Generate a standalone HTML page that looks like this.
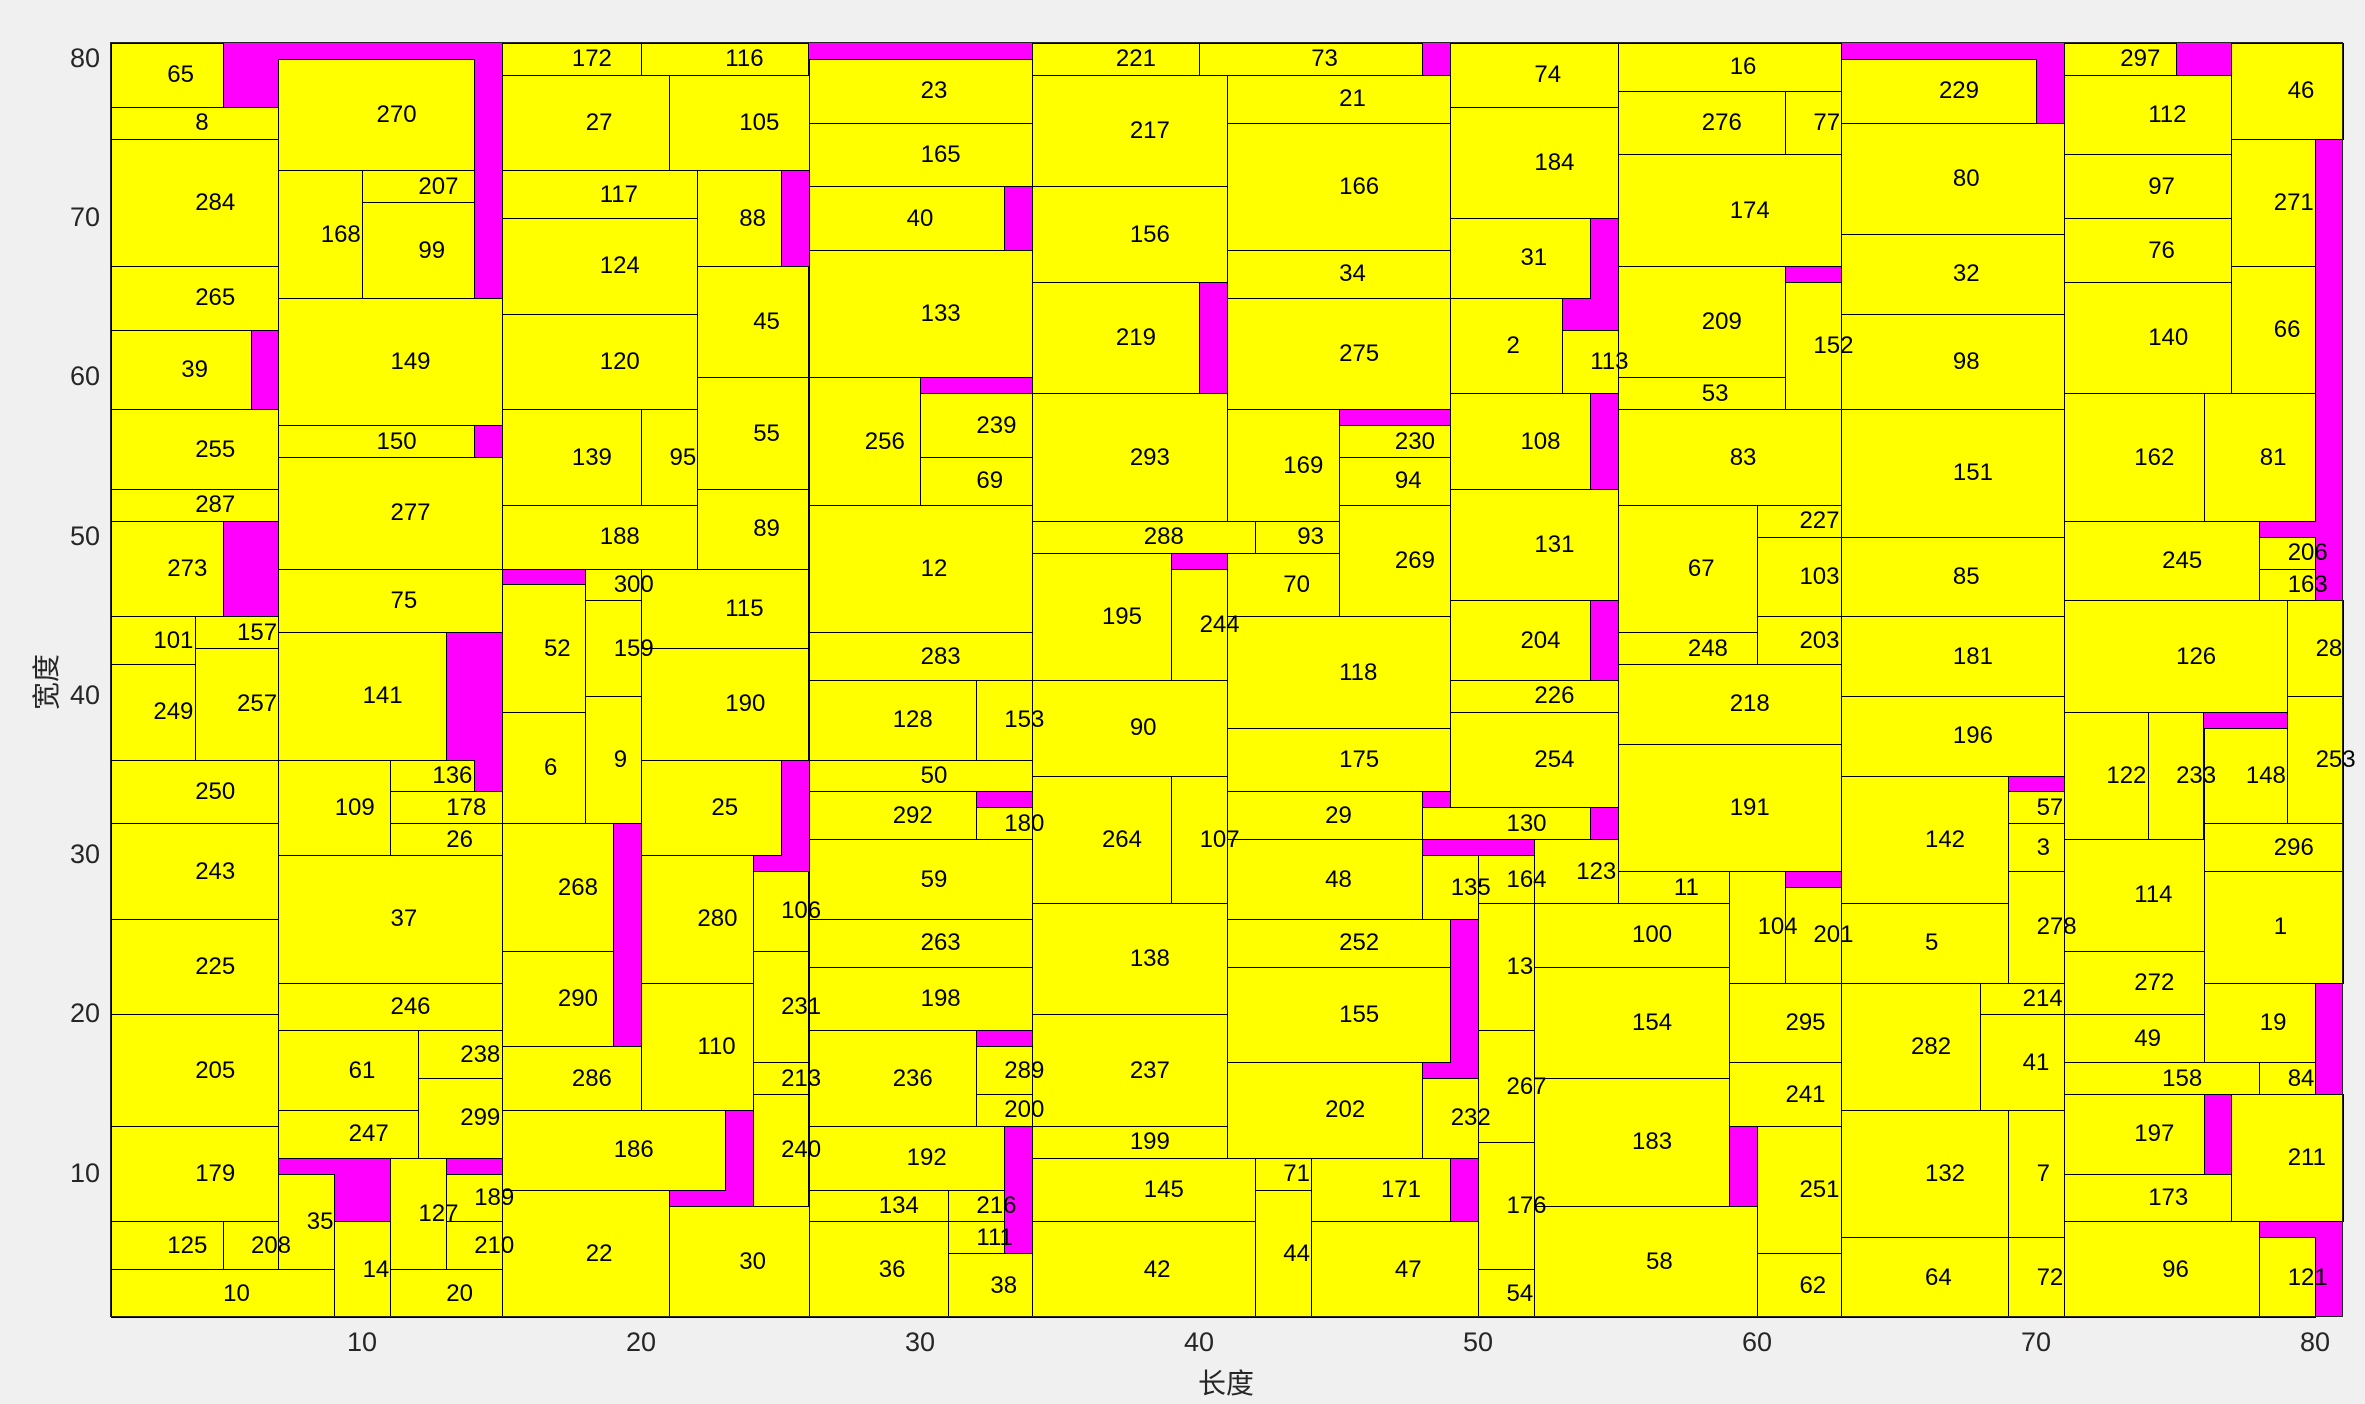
<!DOCTYPE html>
<html><head><meta charset="utf-8"><style>
html,body{margin:0;padding:0}
body{width:2365px;height:1404px;background:#f0f0f0;position:relative;overflow:hidden;font-family:"Liberation Sans","Noto Sans CJK SC",sans-serif}
#p{position:absolute;left:111px;top:43px;width:2232px;height:1274px;background:#f0f}
.r{position:absolute;box-sizing:border-box;border:1px solid #000;background:#ff0;
left:calc(111px + (var(--a) - 1)*27.9px);top:calc(1317px - (var(--d) - 1)*15.925px);
width:calc((var(--c) - var(--a))*27.9px + 1px);height:calc((var(--d) - var(--b))*15.925px + 1px)}
.r span{position:absolute;z-index:5;left:50%;top:50%;transform:translateY(-50%);font-size:24px;line-height:1;white-space:nowrap;color:#000}
#f{position:absolute;left:110px;top:42px;width:2233px;height:1275px;border:1px solid #262626;box-sizing:border-box;pointer-events:none;z-index:6}
.xt{position:absolute;top:1327px;width:80px;margin-left:-40px;text-align:center;font-size:27px;color:#262626}
.yt{position:absolute;left:40px;width:60px;text-align:right;font-size:27px;color:#262626;margin-top:-16px}
</style></head><body>
<div id="p"></div>
<div class="r" style="--a:1;--b:77;--c:5;--d:81"><span>65</span></div>
<div class="r" style="--a:1;--b:75;--c:7;--d:77"><span>8</span></div>
<div class="r" style="--a:1;--b:67;--c:7;--d:75"><span>284</span></div>
<div class="r" style="--a:1;--b:63;--c:7;--d:67"><span>265</span></div>
<div class="r" style="--a:1;--b:58;--c:6;--d:63"><span>39</span></div>
<div class="r" style="--a:1;--b:53;--c:7;--d:58"><span>255</span></div>
<div class="r" style="--a:1;--b:51;--c:7;--d:53"><span>287</span></div>
<div class="r" style="--a:1;--b:45;--c:5;--d:51"><span>273</span></div>
<div class="r" style="--a:1;--b:42;--c:4;--d:45"><span>101</span></div>
<div class="r" style="--a:4;--b:43;--c:7;--d:45"><span>157</span></div>
<div class="r" style="--a:1;--b:36;--c:4;--d:42"><span>249</span></div>
<div class="r" style="--a:4;--b:36;--c:7;--d:43"><span>257</span></div>
<div class="r" style="--a:1;--b:32;--c:7;--d:36"><span>250</span></div>
<div class="r" style="--a:1;--b:26;--c:7;--d:32"><span>243</span></div>
<div class="r" style="--a:1;--b:20;--c:7;--d:26"><span>225</span></div>
<div class="r" style="--a:1;--b:13;--c:7;--d:20"><span>205</span></div>
<div class="r" style="--a:1;--b:7;--c:7;--d:13"><span>179</span></div>
<div class="r" style="--a:1;--b:4;--c:5;--d:7"><span>125</span></div>
<div class="r" style="--a:5;--b:4;--c:7;--d:7"><span>208</span></div>
<div class="r" style="--a:1;--b:1;--c:9;--d:4"><span>10</span></div>
<div class="r" style="--a:7;--b:73;--c:14;--d:80"><span>270</span></div>
<div class="r" style="--a:7;--b:65;--c:10;--d:73"><span>168</span></div>
<div class="r" style="--a:10;--b:71;--c:14;--d:73"><span>207</span></div>
<div class="r" style="--a:10;--b:65;--c:14;--d:71"><span>99</span></div>
<div class="r" style="--a:7;--b:57;--c:15;--d:65"><span>149</span></div>
<div class="r" style="--a:7;--b:55;--c:14;--d:57"><span>150</span></div>
<div class="r" style="--a:7;--b:48;--c:15;--d:55"><span>277</span></div>
<div class="r" style="--a:7;--b:44;--c:15;--d:48"><span>75</span></div>
<div class="r" style="--a:7;--b:36;--c:13;--d:44"><span>141</span></div>
<div class="r" style="--a:7;--b:30;--c:11;--d:36"><span>109</span></div>
<div class="r" style="--a:11;--b:34;--c:14;--d:36"><span>136</span></div>
<div class="r" style="--a:11;--b:32;--c:15;--d:34"><span>178</span></div>
<div class="r" style="--a:11;--b:30;--c:15;--d:32"><span>26</span></div>
<div class="r" style="--a:7;--b:22;--c:15;--d:30"><span>37</span></div>
<div class="r" style="--a:7;--b:19;--c:15;--d:22"><span>246</span></div>
<div class="r" style="--a:7;--b:14;--c:12;--d:19"><span>61</span></div>
<div class="r" style="--a:12;--b:16;--c:15;--d:19"><span>238</span></div>
<div class="r" style="--a:12;--b:11;--c:15;--d:16"><span>299</span></div>
<div class="r" style="--a:7;--b:11;--c:12;--d:14"><span>247</span></div>
<div class="r" style="--a:7;--b:4;--c:9;--d:10"><span>35</span></div>
<div class="r" style="--a:9;--b:1;--c:11;--d:7"><span>14</span></div>
<div class="r" style="--a:11;--b:4;--c:13;--d:11"><span>127</span></div>
<div class="r" style="--a:13;--b:7;--c:15;--d:10"><span>189</span></div>
<div class="r" style="--a:13;--b:4;--c:15;--d:7"><span>210</span></div>
<div class="r" style="--a:11;--b:1;--c:15;--d:4"><span>20</span></div>
<div class="r" style="--a:15;--b:79;--c:20;--d:81"><span>172</span></div>
<div class="r" style="--a:20;--b:79;--c:26;--d:81"><span>116</span></div>
<div class="r" style="--a:15;--b:73;--c:21;--d:79"><span>27</span></div>
<div class="r" style="--a:21;--b:73;--c:26;--d:79"><span>105</span></div>
<div class="r" style="--a:15;--b:70;--c:22;--d:73"><span>117</span></div>
<div class="r" style="--a:22;--b:67;--c:25;--d:73"><span>88</span></div>
<div class="r" style="--a:15;--b:64;--c:22;--d:70"><span>124</span></div>
<div class="r" style="--a:22;--b:60;--c:26;--d:67"><span>45</span></div>
<div class="r" style="--a:15;--b:58;--c:22;--d:64"><span>120</span></div>
<div class="r" style="--a:22;--b:53;--c:26;--d:60"><span>55</span></div>
<div class="r" style="--a:15;--b:52;--c:20;--d:58"><span>139</span></div>
<div class="r" style="--a:20;--b:52;--c:22;--d:58"><span>95</span></div>
<div class="r" style="--a:22;--b:48;--c:26;--d:53"><span>89</span></div>
<div class="r" style="--a:15;--b:48;--c:22;--d:52"><span>188</span></div>
<div class="r" style="--a:18;--b:46;--c:20;--d:48"><span>300</span></div>
<div class="r" style="--a:15;--b:39;--c:18;--d:47"><span>52</span></div>
<div class="r" style="--a:18;--b:40;--c:20;--d:46"><span>159</span></div>
<div class="r" style="--a:20;--b:43;--c:26;--d:48"><span>115</span></div>
<div class="r" style="--a:20;--b:36;--c:26;--d:43"><span>190</span></div>
<div class="r" style="--a:15;--b:32;--c:18;--d:39"><span>6</span></div>
<div class="r" style="--a:18;--b:32;--c:20;--d:40"><span>9</span></div>
<div class="r" style="--a:20;--b:30;--c:25;--d:36"><span>25</span></div>
<div class="r" style="--a:15;--b:24;--c:19;--d:32"><span>268</span></div>
<div class="r" style="--a:20;--b:22;--c:24;--d:30"><span>280</span></div>
<div class="r" style="--a:24;--b:24;--c:26;--d:29"><span>106</span></div>
<div class="r" style="--a:15;--b:18;--c:19;--d:24"><span>290</span></div>
<div class="r" style="--a:24;--b:17;--c:26;--d:24"><span>231</span></div>
<div class="r" style="--a:20;--b:14;--c:24;--d:22"><span>110</span></div>
<div class="r" style="--a:24;--b:15;--c:26;--d:17"><span>213</span></div>
<div class="r" style="--a:15;--b:14;--c:20;--d:18"><span>286</span></div>
<div class="r" style="--a:24;--b:8;--c:26;--d:15"><span>240</span></div>
<div class="r" style="--a:15;--b:9;--c:23;--d:14"><span>186</span></div>
<div class="r" style="--a:15;--b:1;--c:21;--d:9"><span>22</span></div>
<div class="r" style="--a:21;--b:1;--c:26;--d:8"><span>30</span></div>
<div class="r" style="--a:26;--b:76;--c:34;--d:80"><span>23</span></div>
<div class="r" style="--a:26;--b:72;--c:34;--d:76"><span>165</span></div>
<div class="r" style="--a:26;--b:68;--c:33;--d:72"><span>40</span></div>
<div class="r" style="--a:26;--b:60;--c:34;--d:68"><span>133</span></div>
<div class="r" style="--a:26;--b:52;--c:30;--d:60"><span>256</span></div>
<div class="r" style="--a:30;--b:55;--c:34;--d:59"><span>239</span></div>
<div class="r" style="--a:30;--b:52;--c:34;--d:55"><span>69</span></div>
<div class="r" style="--a:26;--b:44;--c:34;--d:52"><span>12</span></div>
<div class="r" style="--a:26;--b:41;--c:34;--d:44"><span>283</span></div>
<div class="r" style="--a:26;--b:36;--c:32;--d:41"><span>128</span></div>
<div class="r" style="--a:32;--b:36;--c:34;--d:41"><span>153</span></div>
<div class="r" style="--a:26;--b:34;--c:34;--d:36"><span>50</span></div>
<div class="r" style="--a:26;--b:31;--c:32;--d:34"><span>292</span></div>
<div class="r" style="--a:32;--b:31;--c:34;--d:33"><span>180</span></div>
<div class="r" style="--a:26;--b:26;--c:34;--d:31"><span>59</span></div>
<div class="r" style="--a:26;--b:23;--c:34;--d:26"><span>263</span></div>
<div class="r" style="--a:26;--b:19;--c:34;--d:23"><span>198</span></div>
<div class="r" style="--a:26;--b:13;--c:32;--d:19"><span>236</span></div>
<div class="r" style="--a:32;--b:15;--c:34;--d:18"><span>289</span></div>
<div class="r" style="--a:32;--b:13;--c:34;--d:15"><span>200</span></div>
<div class="r" style="--a:26;--b:9;--c:33;--d:13"><span>192</span></div>
<div class="r" style="--a:26;--b:7;--c:31;--d:9"><span>134</span></div>
<div class="r" style="--a:31;--b:7;--c:33;--d:9"><span>216</span></div>
<div class="r" style="--a:31;--b:5;--c:33;--d:7"><span>111</span></div>
<div class="r" style="--a:26;--b:1;--c:31;--d:7"><span>36</span></div>
<div class="r" style="--a:31;--b:1;--c:34;--d:5"><span>38</span></div>
<div class="r" style="--a:34;--b:79;--c:40;--d:81"><span>221</span></div>
<div class="r" style="--a:40;--b:79;--c:48;--d:81"><span>73</span></div>
<div class="r" style="--a:34;--b:72;--c:41;--d:79"><span>217</span></div>
<div class="r" style="--a:41;--b:76;--c:49;--d:79"><span>21</span></div>
<div class="r" style="--a:34;--b:66;--c:41;--d:72"><span>156</span></div>
<div class="r" style="--a:41;--b:68;--c:49;--d:76"><span>166</span></div>
<div class="r" style="--a:34;--b:59;--c:40;--d:66"><span>219</span></div>
<div class="r" style="--a:41;--b:65;--c:49;--d:68"><span>34</span></div>
<div class="r" style="--a:41;--b:58;--c:49;--d:65"><span>275</span></div>
<div class="r" style="--a:34;--b:51;--c:41;--d:59"><span>293</span></div>
<div class="r" style="--a:41;--b:51;--c:45;--d:58"><span>169</span></div>
<div class="r" style="--a:45;--b:55;--c:49;--d:57"><span>230</span></div>
<div class="r" style="--a:45;--b:52;--c:49;--d:55"><span>94</span></div>
<div class="r" style="--a:34;--b:49;--c:42;--d:51"><span>288</span></div>
<div class="r" style="--a:42;--b:49;--c:45;--d:51"><span>93</span></div>
<div class="r" style="--a:45;--b:45;--c:49;--d:52"><span>269</span></div>
<div class="r" style="--a:34;--b:41;--c:39;--d:49"><span>195</span></div>
<div class="r" style="--a:39;--b:41;--c:41;--d:48"><span>244</span></div>
<div class="r" style="--a:41;--b:45;--c:45;--d:49"><span>70</span></div>
<div class="r" style="--a:41;--b:38;--c:49;--d:45"><span>118</span></div>
<div class="r" style="--a:34;--b:35;--c:41;--d:41"><span>90</span></div>
<div class="r" style="--a:41;--b:34;--c:49;--d:38"><span>175</span></div>
<div class="r" style="--a:34;--b:27;--c:39;--d:35"><span>264</span></div>
<div class="r" style="--a:39;--b:27;--c:41;--d:35"><span>107</span></div>
<div class="r" style="--a:41;--b:31;--c:48;--d:34"><span>29</span></div>
<div class="r" style="--a:48;--b:31;--c:54;--d:33"><span>130</span></div>
<div class="r" style="--a:41;--b:26;--c:48;--d:31"><span>48</span></div>
<div class="r" style="--a:48;--b:26;--c:50;--d:30"><span>135</span></div>
<div class="r" style="--a:50;--b:27;--c:52;--d:30"><span>164</span></div>
<div class="r" style="--a:52;--b:27;--c:55;--d:31"><span>123</span></div>
<div class="r" style="--a:34;--b:20;--c:41;--d:27"><span>138</span></div>
<div class="r" style="--a:41;--b:23;--c:49;--d:26"><span>252</span></div>
<div class="r" style="--a:41;--b:17;--c:49;--d:23"><span>155</span></div>
<div class="r" style="--a:34;--b:13;--c:41;--d:20"><span>237</span></div>
<div class="r" style="--a:41;--b:11;--c:48;--d:17"><span>202</span></div>
<div class="r" style="--a:48;--b:11;--c:50;--d:16"><span>232</span></div>
<div class="r" style="--a:34;--b:11;--c:41;--d:13"><span>199</span></div>
<div class="r" style="--a:34;--b:7;--c:42;--d:11"><span>145</span></div>
<div class="r" style="--a:42;--b:9;--c:44;--d:11"><span>71</span></div>
<div class="r" style="--a:44;--b:7;--c:49;--d:11"><span>171</span></div>
<div class="r" style="--a:34;--b:1;--c:42;--d:7"><span>42</span></div>
<div class="r" style="--a:42;--b:1;--c:44;--d:9"><span>44</span></div>
<div class="r" style="--a:44;--b:1;--c:50;--d:7"><span>47</span></div>
<div class="r" style="--a:49;--b:77;--c:55;--d:81"><span>74</span></div>
<div class="r" style="--a:49;--b:70;--c:55;--d:77"><span>184</span></div>
<div class="r" style="--a:49;--b:65;--c:54;--d:70"><span>31</span></div>
<div class="r" style="--a:49;--b:59;--c:53;--d:65"><span>2</span></div>
<div class="r" style="--a:53;--b:59;--c:55;--d:63"><span>113</span></div>
<div class="r" style="--a:49;--b:53;--c:54;--d:59"><span>108</span></div>
<div class="r" style="--a:49;--b:46;--c:55;--d:53"><span>131</span></div>
<div class="r" style="--a:49;--b:41;--c:54;--d:46"><span>204</span></div>
<div class="r" style="--a:49;--b:39;--c:55;--d:41"><span>226</span></div>
<div class="r" style="--a:49;--b:33;--c:55;--d:39"><span>254</span></div>
<div class="r" style="--a:50;--b:19;--c:52;--d:27"><span>13</span></div>
<div class="r" style="--a:50;--b:12;--c:52;--d:19"><span>267</span></div>
<div class="r" style="--a:50;--b:4;--c:52;--d:12"><span>176</span></div>
<div class="r" style="--a:50;--b:1;--c:52;--d:4"><span>54</span></div>
<div class="r" style="--a:55;--b:78;--c:63;--d:81"><span>16</span></div>
<div class="r" style="--a:55;--b:74;--c:61;--d:78"><span>276</span></div>
<div class="r" style="--a:61;--b:74;--c:63;--d:78"><span>77</span></div>
<div class="r" style="--a:55;--b:67;--c:63;--d:74"><span>174</span></div>
<div class="r" style="--a:55;--b:60;--c:61;--d:67"><span>209</span></div>
<div class="r" style="--a:61;--b:58;--c:63;--d:66"><span>152</span></div>
<div class="r" style="--a:55;--b:58;--c:61;--d:60"><span>53</span></div>
<div class="r" style="--a:55;--b:52;--c:63;--d:58"><span>83</span></div>
<div class="r" style="--a:55;--b:44;--c:60;--d:52"><span>67</span></div>
<div class="r" style="--a:60;--b:50;--c:63;--d:52"><span>227</span></div>
<div class="r" style="--a:60;--b:45;--c:63;--d:50"><span>103</span></div>
<div class="r" style="--a:55;--b:42;--c:60;--d:44"><span>248</span></div>
<div class="r" style="--a:60;--b:42;--c:63;--d:45"><span>203</span></div>
<div class="r" style="--a:55;--b:37;--c:63;--d:42"><span>218</span></div>
<div class="r" style="--a:55;--b:29;--c:63;--d:37"><span>191</span></div>
<div class="r" style="--a:55;--b:27;--c:59;--d:29"><span>11</span></div>
<div class="r" style="--a:59;--b:22;--c:61;--d:29"><span>104</span></div>
<div class="r" style="--a:61;--b:22;--c:63;--d:28"><span>201</span></div>
<div class="r" style="--a:52;--b:23;--c:59;--d:27"><span>100</span></div>
<div class="r" style="--a:52;--b:16;--c:59;--d:23"><span>154</span></div>
<div class="r" style="--a:59;--b:17;--c:63;--d:22"><span>295</span></div>
<div class="r" style="--a:59;--b:13;--c:63;--d:17"><span>241</span></div>
<div class="r" style="--a:52;--b:8;--c:59;--d:16"><span>183</span></div>
<div class="r" style="--a:60;--b:5;--c:63;--d:13"><span>251</span></div>
<div class="r" style="--a:52;--b:1;--c:60;--d:8"><span>58</span></div>
<div class="r" style="--a:60;--b:1;--c:63;--d:5"><span>62</span></div>
<div class="r" style="--a:63;--b:76;--c:70;--d:80"><span>229</span></div>
<div class="r" style="--a:63;--b:69;--c:71;--d:76"><span>80</span></div>
<div class="r" style="--a:63;--b:64;--c:71;--d:69"><span>32</span></div>
<div class="r" style="--a:63;--b:58;--c:71;--d:64"><span>98</span></div>
<div class="r" style="--a:63;--b:50;--c:71;--d:58"><span>151</span></div>
<div class="r" style="--a:63;--b:45;--c:71;--d:50"><span>85</span></div>
<div class="r" style="--a:63;--b:40;--c:71;--d:45"><span>181</span></div>
<div class="r" style="--a:63;--b:35;--c:71;--d:40"><span>196</span></div>
<div class="r" style="--a:63;--b:27;--c:69;--d:35"><span>142</span></div>
<div class="r" style="--a:69;--b:32;--c:71;--d:34"><span>57</span></div>
<div class="r" style="--a:69;--b:29;--c:71;--d:32"><span>3</span></div>
<div class="r" style="--a:69;--b:22;--c:71;--d:29"><span>278</span></div>
<div class="r" style="--a:63;--b:22;--c:69;--d:27"><span>5</span></div>
<div class="r" style="--a:63;--b:14;--c:68;--d:22"><span>282</span></div>
<div class="r" style="--a:68;--b:20;--c:71;--d:22"><span>214</span></div>
<div class="r" style="--a:68;--b:14;--c:71;--d:20"><span>41</span></div>
<div class="r" style="--a:63;--b:6;--c:69;--d:14"><span>132</span></div>
<div class="r" style="--a:69;--b:6;--c:71;--d:14"><span>7</span></div>
<div class="r" style="--a:63;--b:1;--c:69;--d:6"><span>64</span></div>
<div class="r" style="--a:69;--b:1;--c:71;--d:6"><span>72</span></div>
<div class="r" style="--a:71;--b:79;--c:75;--d:81"><span>297</span></div>
<div class="r" style="--a:77;--b:75;--c:81;--d:81"><span>46</span></div>
<div class="r" style="--a:71;--b:74;--c:77;--d:79"><span>112</span></div>
<div class="r" style="--a:77;--b:67;--c:80;--d:75"><span>271</span></div>
<div class="r" style="--a:71;--b:70;--c:77;--d:74"><span>97</span></div>
<div class="r" style="--a:71;--b:66;--c:77;--d:70"><span>76</span></div>
<div class="r" style="--a:77;--b:59;--c:80;--d:67"><span>66</span></div>
<div class="r" style="--a:71;--b:59;--c:77;--d:66"><span>140</span></div>
<div class="r" style="--a:71;--b:51;--c:76;--d:59"><span>162</span></div>
<div class="r" style="--a:76;--b:51;--c:80;--d:59"><span>81</span></div>
<div class="r" style="--a:71;--b:46;--c:78;--d:51"><span>245</span></div>
<div class="r" style="--a:78;--b:48;--c:80;--d:50"><span>206</span></div>
<div class="r" style="--a:78;--b:46;--c:80;--d:48"><span>163</span></div>
<div class="r" style="--a:71;--b:39;--c:79;--d:46"><span>126</span></div>
<div class="r" style="--a:79;--b:40;--c:81;--d:46"><span>28</span></div>
<div class="r" style="--a:79;--b:32;--c:81;--d:40"><span>253</span></div>
<div class="r" style="--a:71;--b:31;--c:74;--d:39"><span>122</span></div>
<div class="r" style="--a:74;--b:31;--c:76;--d:39"><span>233</span></div>
<div class="r" style="--a:76;--b:32;--c:79;--d:38"><span>148</span></div>
<div class="r" style="--a:76;--b:29;--c:81;--d:32"><span>296</span></div>
<div class="r" style="--a:71;--b:24;--c:76;--d:31"><span>114</span></div>
<div class="r" style="--a:76;--b:22;--c:81;--d:29"><span>1</span></div>
<div class="r" style="--a:71;--b:20;--c:76;--d:24"><span>272</span></div>
<div class="r" style="--a:76;--b:17;--c:80;--d:22"><span>19</span></div>
<div class="r" style="--a:71;--b:17;--c:76;--d:20"><span>49</span></div>
<div class="r" style="--a:71;--b:15;--c:78;--d:17"><span>158</span></div>
<div class="r" style="--a:78;--b:15;--c:80;--d:17"><span>84</span></div>
<div class="r" style="--a:71;--b:10;--c:76;--d:15"><span>197</span></div>
<div class="r" style="--a:77;--b:7;--c:81;--d:15"><span>211</span></div>
<div class="r" style="--a:71;--b:7;--c:77;--d:10"><span>173</span></div>
<div class="r" style="--a:71;--b:1;--c:78;--d:7"><span>96</span></div>
<div class="r" style="--a:78;--b:1;--c:80;--d:6"><span>121</span></div>
<div id="f"></div>
<div class="xt" style="left:362px">10</div>
<div class="xt" style="left:641px">20</div>
<div class="xt" style="left:920px">30</div>
<div class="xt" style="left:1199px">40</div>
<div class="xt" style="left:1478px">50</div>
<div class="xt" style="left:1757px">60</div>
<div class="xt" style="left:2036px">70</div>
<div class="xt" style="left:2315px">80</div>
<div class="yt" style="top:1174px">10</div>
<div class="yt" style="top:1014px">20</div>
<div class="yt" style="top:855px">30</div>
<div class="yt" style="top:696px">40</div>
<div class="yt" style="top:537px">50</div>
<div class="yt" style="top:377px">60</div>
<div class="yt" style="top:218px">70</div>
<div class="yt" style="top:59px">80</div>
<div style="position:absolute;left:1186px;top:1362px;width:80px;text-align:center;font-size:28px;color:#262626">长度</div>
<div style="position:absolute;left:5px;top:662px;width:80px;text-align:center;font-size:28px;color:#262626;transform:rotate(-90deg)">宽度</div>
</body></html>
